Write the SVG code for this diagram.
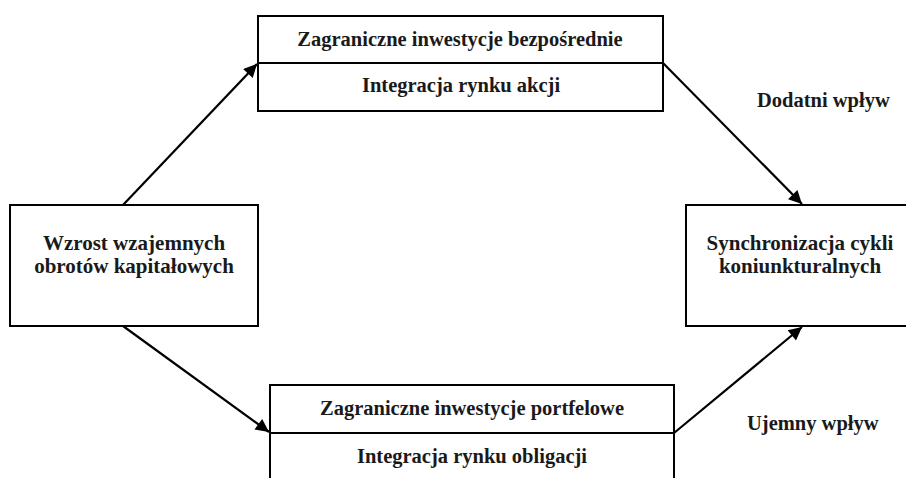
<svg xmlns="http://www.w3.org/2000/svg" width="906" height="478" viewBox="0 0 906 478">
<style>
.box{fill:#fff;stroke:#000;stroke-width:2}
.t{font-family:"Liberation Serif","Times New Roman",serif;font-weight:bold;font-size:20.5px;fill:#1a1a1a;text-anchor:middle}
.lbl{font-family:"Liberation Serif","Times New Roman",serif;font-weight:bold;font-size:20.5px;fill:#1a1a1a}
.c{stroke:#000;stroke-width:2.2;fill:none;marker-end:url(#ah)}
</style>
<defs>
<marker id="ah" viewBox="0 0 10 10" refX="10" refY="5" markerWidth="7" markerHeight="6" orient="auto" markerUnits="strokeWidth">
<path d="M0,0 L10,5 L0,10 z" fill="#000"/>
</marker>
</defs>
<rect width="906" height="478" fill="#fff"/>
<g id="top">
<rect class="box" x="258" y="16" width="405" height="95"/>
<line x1="258" y1="63" x2="663" y2="63" stroke="#000" stroke-width="2"/>
<text class="t" x="460" y="46">Zagraniczne inwestycje bezpośrednie</text>
<text class="t" x="461" y="92">Integracja rynku akcji</text>
</g>
<g id="left">
<rect class="box" x="10" y="205" width="248" height="121"/>
<text class="t" x="134" y="250" style="font-size:21px">Wzrost wzajemnych</text>
<text class="t" x="134" y="273" style="font-size:21px">obrotów kapitałowych</text>
</g>
<g id="right">
<rect class="box" x="686" y="205" width="230" height="121"/>
<text class="t" x="800" y="250" style="font-size:21px">Synchronizacja cykli</text>
<text class="t" x="800" y="273" style="font-size:21px">koniunkturalnych</text>
</g>
<g id="bottom">
<rect class="box" x="270" y="385" width="404" height="110"/>
<line x1="270" y1="433" x2="674" y2="433" stroke="#000" stroke-width="2"/>
<text class="t" x="472" y="415">Zagraniczne inwestycje portfelowe</text>
<text class="t" x="472" y="463">Integracja rynku obligacji</text>
</g>
<g id="connectors">
<line class="c" x1="123" y1="205" x2="257" y2="64"/>
<line class="c" x1="663" y1="63" x2="802" y2="204"/>
<line class="c" x1="123" y1="326" x2="269" y2="432"/>
<line class="c" x1="674" y1="433" x2="802" y2="327"/>
</g>
<g id="labels">
<text class="lbl" x="757" y="107">Dodatni wpływ</text>
<text class="lbl" x="747" y="430">Ujemny wpływ</text>
</g>
</svg>
